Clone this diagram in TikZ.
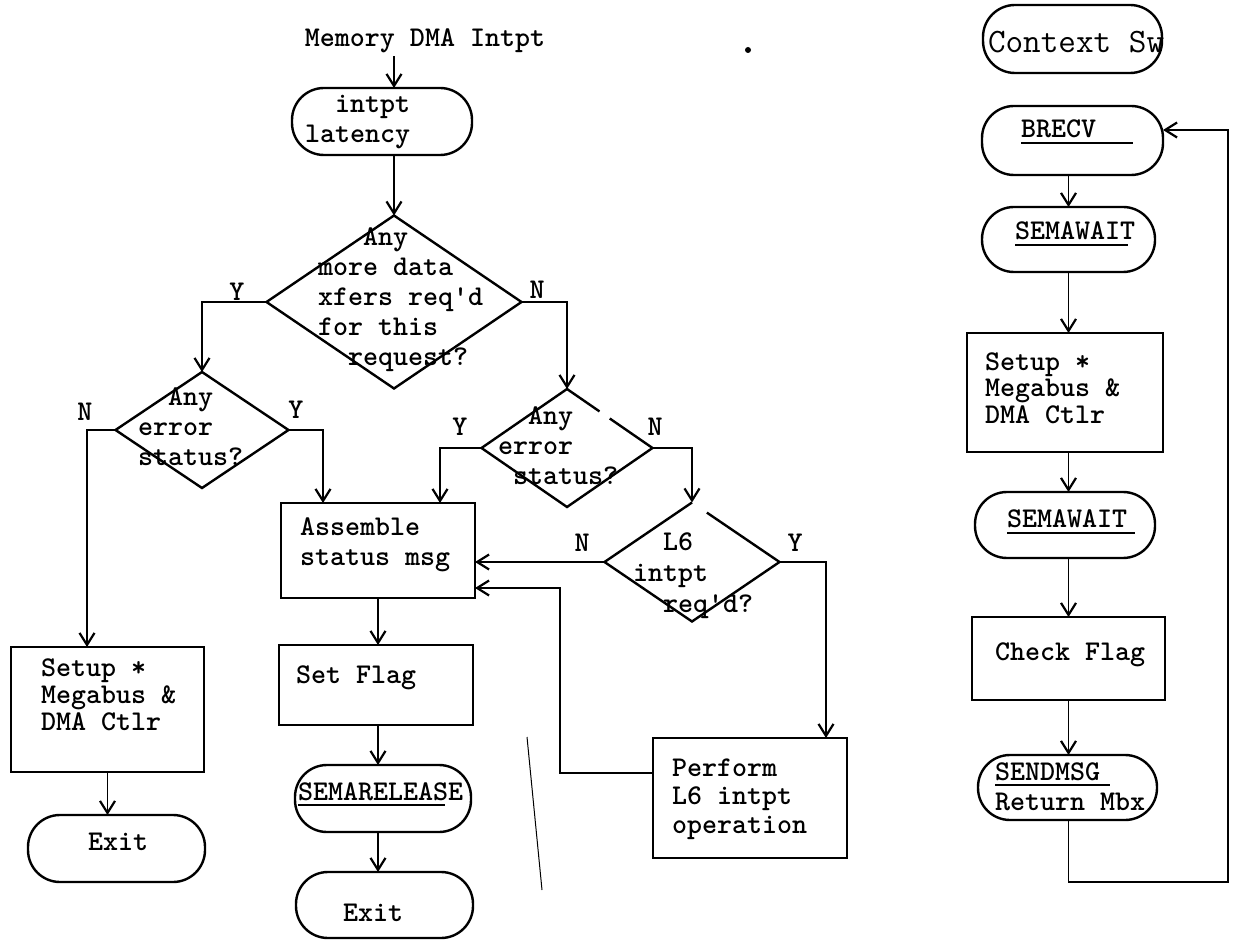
\documentclass[tikz,border=0pt]{standalone}
\usetikzlibrary{arrows.meta,shapes.geometric,calc}
% underlined label: rule of given width drawn just below the baseline
\newcommand\ulx[2]{\rlap{\rule[-3.2pt]{#1}{1.2pt}}#2}
\begin{document}
\begin{tikzpicture}[x=0.5pt,y=-0.5pt,
  line width=1.2pt,
  every node/.style={inner sep=0pt, outer sep=0pt,
    font=\fontsize{14.3pt}{15pt}\selectfont\ttfamily\bfseries},
  txt/.style={font={\fontsize{14.3pt}{#1}\selectfont\ttfamily\bfseries}, align=left},
  txt/.default=15pt,
  proc/.style={draw, rectangle},
  term/.style={draw, rectangle, rounded corners=16pt},
  dec/.style={diamond},
  lbl/.style={},
  arr/.style={-{Straight Barb[length=6pt,width=7.5pt,line width=1.1pt]}},
  thinline/.style={line width=0.8pt},
]
\useasboundingbox (0,0) rectangle (1236,940);

% ---------------- memory DMA interrupt path ----------------
\node[txt] (title) at (425,41) {Memory DMA Intpt};

\node[term, minimum width=90pt, minimum height=33.5pt] (t1) at (382,121.5) {};
\node[txt, align=right, anchor=west] (t1t) at (305,122) {intpt\\latency};

\node[dec, draw, minimum width=127.5pt, minimum height=86.5pt] (d1) at (394,302) {};
\node[txt, anchor=west] (d1t) at (318,300)
  {\phantom{mor}Any\\more data\\xfers req'd\\for this\\\phantom{fo}request?};

\node[dec, draw, minimum width=86.5pt, minimum height=58pt] (d2) at (202,430) {};
\node[txt, anchor=west] (d2t) at (138,427) {\phantom{er}Any\\error\\status?};

\node[dec, minimum width=85.5pt, minimum height=59pt] (d3) at (567,448) {};
\draw ($(d3.east)!0.62!(d3.north)$) -- (d3.north) -- (d3.west) -- (d3.south)
  -- (d3.east) -- ($(d3.east)!0.5!(d3.north)$);
\node[txt, anchor=west] (d3t) at (498,446) {\phantom{er}Any\\error\\\phantom{e}status?};

\node[dec, minimum width=87.5pt, minimum height=59.5pt] (d4) at (692,562) {};
\draw ($(d4.east)!0.83!(d4.north)$) -- (d4.east) -- (d4.south) -- (d4.west) -- (d4.north);
\node[txt=15.5pt, anchor=west] (d4t) at (633,576) {\phantom{xx}L6\\intpt\\\phantom{xx}req'd?};

\node[proc, minimum width=97pt, minimum height=47.5pt] (asm) at (378,550.5) {};
\node[txt, anchor=west] (asmt) at (300,545) {Assemble\\status msg};

\node[proc, minimum width=96.5pt, minimum height=62.5pt] (s1) at (107.5,709.5) {};
\node[txt=13.5pt, anchor=west] (s1t) at (41,695) {Setup *\\Megabus \&\\DMA Ctlr};

\node[term, minimum width=88.5pt, minimum height=33.5pt] (exit1) at (116.5,848.5) {};
\node[txt, anchor=base west] (exit1t) at (88,850) {Exit};

\node[proc, minimum width=97pt, minimum height=40pt] (setflag) at (376,685) {};
\node[txt, anchor=base west] (setflagt) at (296,683) {Set Flag};

\node[term, minimum width=88pt, minimum height=33.5pt] (semarel) at (383,798.5) {};
\node[txt, anchor=base west] (semarelt) at (298,800) {\ulx{73.5pt}{SEMARELEASE}};

\node[term, minimum width=88.5pt, minimum height=33pt] (exit2) at (384.5,905) {};
\node[txt, anchor=base west] (exit2t) at (343,921) {Exit};

\node[proc, minimum width=97pt, minimum height=60pt] (perform) at (750,798) {};
\node[txt=14.25pt, anchor=west] (performt) at (672,799) {Perform\\L6 intpt\\operation};

% branch labels
\node[lbl] (y1) at (237,292) {Y};
\node[lbl] (n1) at (537,290) {N};
\node[lbl] (n2) at (85,412) {N};
\node[lbl] (y2) at (296,410) {Y};
\node[lbl] (y3) at (460,427) {Y};
\node[lbl] (n3) at (655,427) {N};
\node[lbl] (n4) at (582,543) {N};
\node[lbl] (y4) at (795,543) {Y};

% connectors
\draw[arr] ($(title.south -| d1.north)+(0,3)$) -- (t1.north -| d1.north);
\draw[arr] (t1.south -| d1.north) -- (d1.north);
\draw[arr] (d1.west) -| (d2.north);
\draw[arr] (d1.east) -| (d3.north);
\draw[arr, thinline] (d2.west) -| ([xshift=38pt]s1.north west);
\draw[arr] (d2.east) -| ([xshift=21pt]asm.north west);
\draw[arr] (d3.west) -| ([xshift=-17.5pt]asm.north east);
\draw[arr] (d3.east) -| (d4.north);
\draw[arr] (d4.west) -- (d4.west -| asm.east);
\draw[arr, thinline] (d4.east) -| ([xshift=-10.5pt]perform.north east);
\draw[arr, thinline] ([yshift=12.5pt]perform.west) -- ++(-93,0) |- ([yshift=-18.75pt]asm.east);
\draw[arr, thinline] (asm.south) -- (asm.south |- setflag.north);
\draw[arr, thinline] (setflag.south -| asm.south) -- (semarel.north -| asm.south);
\draw[arr, thinline] (semarel.south -| asm.south) -- (exit2.north -| asm.south);
\draw[arr, thinline] (s1.south) -- (s1.south |- exit1.north);

% ---------------- context switch path ----------------
\node[term, minimum width=89.5pt, minimum height=34pt] (ctx) at (1072.5,39) {};
\node[anchor=west, font=\fontsize{17.1pt}{18pt}\selectfont\ttfamily] (ctxt) at (988,42) {Context Sw};

\node[term, minimum width=90.5pt, minimum height=34.5pt] (brecv) at (1072.5,140.5) {};
\node[txt, anchor=base west] (brecvt) at (1021,138) {\ulx{56pt}{BRECV}};

\node[term, minimum width=86.5pt, minimum height=32.5pt] (sema1) at (1068.5,239.5) {};
\node[txt, anchor=base west] (sema1t) at (1015,240) {\ulx{56.5pt}{SEMAWAIT}};

\node[proc, minimum width=98pt, minimum height=59.5pt] (s2) at (1065,392.5) {};
\node[txt=13.25pt, anchor=west] (s2t) at (985,388) {Setup *\\Megabus \&\\DMA Ctlr};

\node[term, minimum width=90pt, minimum height=33pt] (sema2) at (1065,525) {};
\node[txt, anchor=base west] (sema2t) at (1007,528) {\ulx{64pt}{SEMAWAIT}};

\node[proc, minimum width=96.5pt, minimum height=41.5pt] (check) at (1068.5,658.5) {};
\node[txt, anchor=base west] (checkt) at (995,660) {Check Flag};

\node[term, minimum width=89.5pt, minimum height=32.5pt] (sendmsg) at (1067.5,787.5) {};
\node[txt, anchor=base west] (sendt1) at (995,780) {\ulx{57.5pt}{SENDMSG}};
\node[txt, anchor=base west] (sendt2) at (995,810) {Return Mbx};

\draw[arr, thinline] (brecv.south -| sema1.north) -- (sema1.north);
\draw[arr, thinline] (sema1.south) -- (sema1.south |- s2.north);
\draw[arr, thinline] (s2.south -| sema1.north) -- (sema2.north -| sema1.north);
\draw[arr, thinline] (sema2.south -| sema1.north) -- (check.north -| sema1.north);
\draw[arr, thinline] (check.south -| sema1.north) -- (sendmsg.north -| sema1.north);
\coordinate (loopc) at (1228,882);
\draw[arr, thinline] (sendmsg.south -| sema1.north) |- (loopc) |- ([yshift=5.25pt]brecv.east);

% stray pen marks on the sheet
\draw[line width=0.5pt] (527,737) -- (542,890);
\fill (748,50) circle (3);
\end{tikzpicture}
\end{document}
